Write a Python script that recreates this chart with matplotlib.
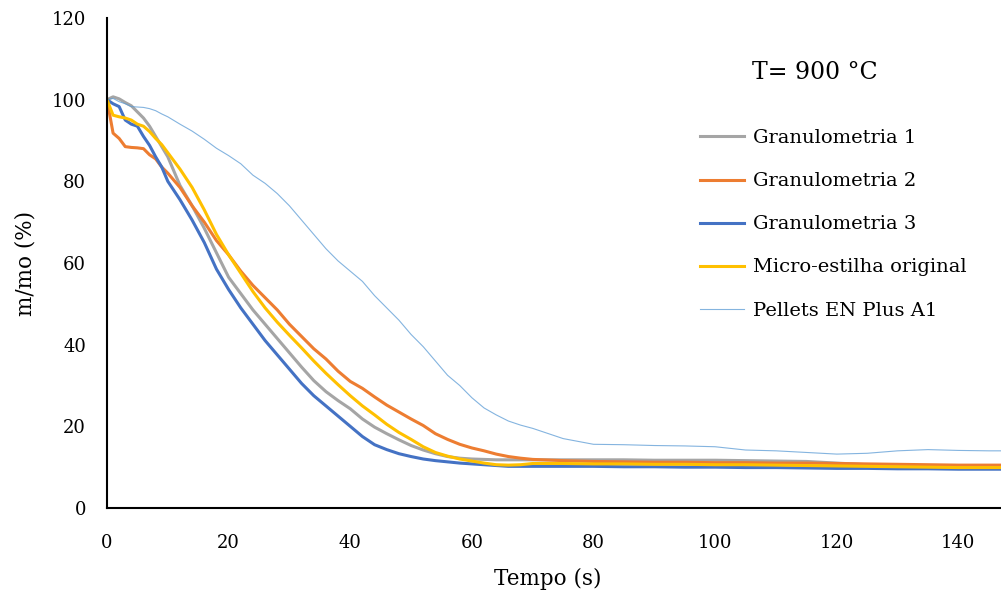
import numpy as np
import matplotlib
matplotlib.use("Agg")
import matplotlib.pyplot as plt

# tempo (s)
t = [0, 1, 2, 3, 4, 5, 6, 7, 8, 9, 10, 12, 14, 16, 18, 20, 22, 24, 26, 28, 30,
     32, 34, 36, 38, 40, 42, 44, 46, 48, 50, 52, 54, 56, 58, 60, 62, 64, 66,
     68, 70, 75, 80, 85, 90, 95, 100, 105, 110, 115, 120, 125, 130, 135, 140,
     145, 147]

gran1 = [100, 100.7, 100.2, 99.3, 98.5, 97, 95.5, 93.5, 91, 88.5, 86, 79, 74,
         68.5, 62.5, 56.5, 52.5, 48.5, 45, 41.5, 38, 34.5, 31.2, 28.5, 26.3,
         24.3, 21.8, 19.8, 18.2, 16.7, 15.3, 14.2, 13.3, 12.6, 12.2, 12, 11.9,
         11.8, 11.8, 11.8, 11.8, 11.8, 11.8, 11.8, 11.7, 11.7, 11.7, 11.6, 11.5,
         11.4, 11.0, 10.6, 10.3, 10.1, 9.9, 9.8, 9.8]

gran2 = [100, 91.8, 90.5, 88.5, 88.3, 88.2, 88, 86.5, 85.5, 83.5, 82, 78.5, 74,
         70, 65.5, 62, 58, 54.5, 51.5, 48.5, 45, 42, 39, 36.5, 33.5, 31, 29.3,
         27.2, 25.2, 23.5, 21.8, 20.2, 18.2, 16.8, 15.6, 14.7, 14, 13.2, 12.6,
         12.2, 11.9, 11.6, 11.4, 11.3, 11.2, 11.2, 11.1, 11.1, 11, 11, 10.9,
         10.8, 10.7, 10.6, 10.5, 10.5, 10.5]

gran3 = [100, 99, 98.3, 95, 94, 93.5, 91, 88.8, 86, 83.5, 80, 75.5, 70.5, 65,
         58.5, 53.5, 49, 45, 41, 37.5, 34, 30.5, 27.5, 25, 22.5, 20, 17.5, 15.5,
         14.3, 13.3, 12.6, 12, 11.6, 11.3, 11, 10.8, 10.6, 10.4, 10.2, 10.2,
         10.2, 10.2, 10.2, 10.1, 10.1, 10.0, 10.0, 9.9, 9.9, 9.8, 9.7, 9.7, 9.6,
         9.6, 9.5, 9.5, 9.5]

micro = [100, 96.2, 95.8, 95.5, 95, 94, 93.5, 92.2, 90.5, 89, 87, 83, 78.5, 73,
         67, 62, 57.5, 53, 49, 45.5, 42.3, 39.2, 36, 33, 30.2, 27.5, 25, 22.8,
         20.5, 18.5, 16.8, 15, 13.6, 12.7, 12, 11.5, 11, 10.6, 10.5, 10.6, 10.9,
         10.9, 10.8, 10.8, 10.7, 10.7, 10.6, 10.6, 10.5, 10.4, 10.3, 10.2, 10.1,
         10.0, 9.9, 9.9, 9.9]

pellets = [100, 100.3, 99.5, 99, 98.3, 98.2, 98.1, 97.8, 97.3, 96.5, 95.8, 94,
           92.3, 90.3, 88.1, 86.3, 84.3, 81.5, 79.5, 77, 74, 70.5, 67, 63.5,
           60.5, 58, 55.5, 52, 49, 46, 42.5, 39.5, 36, 32.5, 30, 27, 24.5, 22.8,
           21.3, 20.3, 19.5, 17, 15.6, 15.5, 15.3, 15.2, 15, 14.2, 14, 13.6,
           13.2, 13.4, 14, 14.3, 14.1, 14, 14]

labels = ["Granulometria 1", "Granulometria 2", "Granulometria 3",
          "Micro-estilha original", "Pellets EN Plus A1"]

plt.rcParams['font.family'] = ['DejaVu Serif']
plt.rcParams['xtick.major.size'] = 0
plt.rcParams['ytick.major.size'] = 0
plt.rcParams['xtick.major.pad'] = 19
plt.rcParams['ytick.major.pad'] = 15
plt.rcParams['xtick.labelsize'] = 13
plt.rcParams['ytick.labelsize'] = 13

fig = plt.figure(figsize=(10.01, 5.96), dpi=100)
ax = fig.add_axes([107/1001, 88/596, 894/1001, 490/596])

ax.plot(t, gran1, color="#A5A5A5", lw=2.2, label=labels[0])
ax.plot(t, gran2, color="#ED7D31", lw=2.2, label=labels[1])
ax.plot(t, gran3, color="#4472C4", lw=2.2, label=labels[2])
ax.plot(t, micro, color="#FFC000", lw=2.2, label=labels[3])
ax.plot(t, pellets, color="#5B9BD5", lw=0.8, alpha=0.75, label=labels[4])

ax.set_xlim(0, 147)
ax.set_ylim(0, 120)
ax.set_xticks(np.arange(0, 141, 20))
ax.set_yticks(np.arange(0, 121, 20))
ax.spines['top'].set_visible(False)
ax.spines['right'].set_visible(False)
ax.spines['left'].set_linewidth(1.5)
ax.spines['bottom'].set_linewidth(1.5)

ax.set_xlabel("Tempo (s)", fontsize=15.5)
ax.set_ylabel("m/mo (%)", fontsize=15.5)
ax.xaxis.set_label_coords(0.493, -0.122)
ax.yaxis.set_label_coords(-0.079, 0.5)

ax.text(0.722, 0.875, "T= 900 °C", transform=ax.transAxes, fontsize=17)
ax.legend(loc="upper left", bbox_to_anchor=(0.663, 0.773), frameon=False,
          fontsize=14, labelspacing=1.29, handlelength=2.3, handletextpad=0.45,
          borderpad=0, borderaxespad=0)

fig.savefig("out.png", dpi=100)
